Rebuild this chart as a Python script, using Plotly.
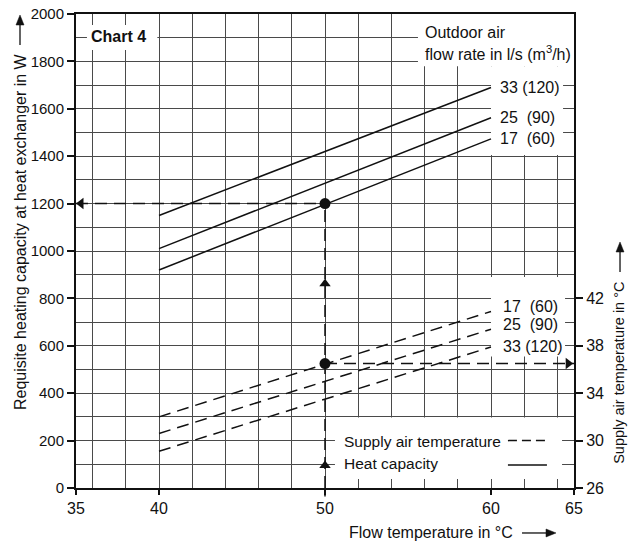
import plotly.graph_objects as go

# ---- data ----
flow_temp = [40, 60]
heat_33 = [1150, 1690]
heat_25 = [1010, 1562]
heat_17 = [920, 1473]
supply_17 = [32.0, 40.9]
supply_25 = [30.6, 39.4]
supply_33 = [29.1, 37.9]
series_labels = ["33\u00a0(120)", "25\u00a0\u00a0(90)", "17\u00a0\u00a0(60)"]
dashed_labels = ["17\u00a0\u00a0(60)", "25\u00a0\u00a0(90)", "33\u00a0(120)"]
example_flow = 50
example_heat = 1200
example_supply = 36.5
x_ticks = [35, 40, 50, 60, 65]
y_ticks = list(range(0, 2001, 200))
y2_ticks = [26, 30, 34, 38, 42]

FONT = "Liberation Sans, Arial, sans-serif"
BLACK = "#111"
DASH = "12px,7px"

fig = go.Figure()

# heat capacity (solid)
for ys in (heat_33, heat_25, heat_17):
    fig.add_trace(go.Scatter(x=flow_temp, y=ys, mode="lines",
                             line=dict(color=BLACK, width=1.5), showlegend=False))
# supply air temperature (dashed, right axis)
for ys in (supply_17, supply_25, supply_33):
    fig.add_trace(go.Scatter(x=flow_temp, y=ys, mode="lines", yaxis="y2",
                             line=dict(color=BLACK, width=1.5, dash=DASH), showlegend=False))

# example guide lines
fig.add_trace(go.Scatter(x=[x_ticks[0], example_flow], y=[example_heat, example_heat], mode="lines",
                         line=dict(color=BLACK, width=1.5, dash=DASH), showlegend=False))
fig.add_trace(go.Scatter(x=[example_flow, example_flow], y=[0, example_heat], mode="lines",
                         line=dict(color=BLACK, width=1.5, dash=DASH), showlegend=False))
fig.add_trace(go.Scatter(x=[example_flow, x_ticks[-1]], y=[example_supply, example_supply], mode="lines",
                         yaxis="y2", line=dict(color=BLACK, width=1.5, dash=DASH), showlegend=False))
# arrow heads
fig.add_trace(go.Scatter(x=[35.3], y=[example_heat], mode="markers", cliponaxis=False,
                         marker=dict(symbol="triangle-left", size=10, color=BLACK), showlegend=False))
fig.add_trace(go.Scatter(x=[example_flow, example_flow], y=[862, 95], mode="markers", cliponaxis=False,
                         marker=dict(symbol="triangle-up", size=10, color=BLACK), showlegend=False))
fig.add_trace(go.Scatter(x=[64.65], y=[example_supply], mode="markers", yaxis="y2", cliponaxis=False,
                         marker=dict(symbol="triangle-right", size=10, color=BLACK), showlegend=False))
# example points
fig.add_trace(go.Scatter(x=[example_flow], y=[example_heat], mode="markers",
                         marker=dict(size=11, color=BLACK), showlegend=False))
fig.add_trace(go.Scatter(x=[example_flow], y=[example_supply], mode="markers", yaxis="y2",
                         marker=dict(size=11, color=BLACK), showlegend=False))

# white boxes over the grid
boxes = [
    (35.66, 39.9, 1848, 1954),
    (55.6, 65, 1780, 2000),
    (60, 64.34, 1405, 1780),
    (60, 64.46, 555, 890),
    (50.6, 64.28, 38, 297),
]
for x0, x1, y0, y1 in boxes:
    fig.add_shape(type="rect", x0=x0, x1=x1, y0=y0, y1=y1, xref="x", yref="y",
                  fillcolor="white", line=dict(width=0), layer="between")

# legend samples
fig.add_shape(type="line", x0=61.02, x1=63.37, y0=200, y1=200, xref="x", yref="y",
              line=dict(color=BLACK, width=1.5, dash="9px,5px"))
fig.add_shape(type="line", x0=61.02, x1=63.37, y0=97, y1=97, xref="x", yref="y",
              line=dict(color=BLACK, width=1.5))
# short extension of the vertical guide below the axis
fig.add_shape(type="line", x0=0.5, x1=0.5, y0=-0.018, y1=0, xref="paper", yref="paper",
              line=dict(color=BLACK, width=1.5))

# axis-title arrows (line + filled head, paper coords)
def arrow(x0, y0, x1, y1, tip, p1, p2):
    fig.add_shape(type="line", x0=x0, y0=y0, x1=x1, y1=y1, xref="paper", yref="paper",
                  line=dict(color=BLACK, width=1.3))
    fig.add_shape(type="path", xref="paper", yref="paper",
                  path=f"M {tip[0]} {tip[1]} L {p1[0]} {p1[1]} L {p2[0]} {p2[1]} Z",
                  fillcolor=BLACK, line=dict(color=BLACK, width=0.5))

arrow(0.8956, -0.0949, 0.9438, -0.0949, (0.9639, -0.0949), (0.9438, -0.0865), (0.9438, -0.1033))
arrow(-0.11245, 0.9346, -0.11245, 0.9768, (-0.11245, 0.9979), (-0.1205, 0.9768), (-0.1044, 0.9768))
arrow(1.0924, 0.4557, 1.0924, 0.4979, (1.0924, 0.519), (1.0844, 0.4979), (1.1004, 0.4979))

ann_font = dict(family=FONT, size=16, color=BLACK)
anns = []
anns.append(dict(x=37.53, y=1903, text="<b>Chart 4</b>", showarrow=False, xref="x", yref="y",
                 font=dict(family=FONT, size=16, color=BLACK)))
anns.append(dict(x=55.9, y=1924, text="Outdoor air", showarrow=False, xref="x", yref="y",
                 xanchor="left", font=ann_font))
anns.append(dict(x=55.9, y=1835, text="flow rate in l/s (m<sup>3</sup>/h)", showarrow=False,
                 xref="x", yref="y", xanchor="left", font=ann_font))
for lab, ys in zip(series_labels, (heat_33, heat_25, heat_17)):
    anns.append(dict(x=60.45, y=ys[-1], text=lab, showarrow=False, xref="x", yref="y",
                     xanchor="left", font=ann_font))
dashed_label_y = [764, 688, 599]
for lab, yv in zip(dashed_labels, dashed_label_y):
    anns.append(dict(x=60.6, y=yv, text=lab, showarrow=False, xref="x", yref="y",
                     xanchor="left", font=ann_font))
legend_font = dict(family=FONT, size=15.5, color=BLACK)
anns.append(dict(x=51.0, y=198, text="Supply air temperature", showarrow=False, xref="x", yref="y",
                 xanchor="left", font=legend_font))
anns.append(dict(x=51.0, y=103, text="Heat capacity", showarrow=False, xref="x", yref="y",
                 xanchor="left", font=legend_font))
# axis titles (paper coords relative to plot area)
anns.append(dict(x=0.713, y=-0.093, text="Flow temperature in °C", showarrow=False, xref="paper",
                 yref="paper", xanchor="center", yanchor="middle", font=ann_font))
anns.append(dict(x=-0.1124, y=0.540, text="Requisite heating capacity at heat exchanger in W",
                 textangle=-90, showarrow=False, xref="paper", yref="paper",
                 xanchor="center", yanchor="middle", font=ann_font))
anns.append(dict(x=1.09, y=0.2426, text="Supply air temperature in °C", textangle=-90,
                 showarrow=False, xref="paper", yref="paper",
                 xanchor="center", yanchor="middle", font=dict(family=FONT, size=14.5, color=BLACK)))

fig.update_layout(
    width=629, height=545,
    margin=dict(l=76, r=55, t=14, b=57, autoexpand=False),
    paper_bgcolor="white", plot_bgcolor="white",
    annotations=anns,
    font=dict(family=FONT, size=16, color=BLACK),
    xaxis=dict(range=[35, 65], tickvals=x_ticks, showgrid=False, zeroline=False, automargin=False,
               showline=True, linecolor=BLACK, linewidth=2, mirror=True, ticklabeloverflow="allow",
               ticks="outside", ticklen=5, tickcolor=BLACK, tickwidth=1.5,
               tickfont=dict(family=FONT, size=16, color=BLACK),
               minor=dict(tickvals=list(range(36, 65, 2)), showgrid=True,
                          gridcolor="#4a4a4a", gridwidth=1, ticks="")),
    yaxis=dict(range=[0, 2000], tickvals=y_ticks, showgrid=True, gridcolor="#4a4a4a", gridwidth=1,
               zeroline=False, showline=True, linecolor=BLACK, linewidth=2, mirror=True,
               automargin=False, ticklabeloverflow="allow",
               ticks="outside", ticklen=7, tickcolor=BLACK, tickwidth=1.5,
               tickfont=dict(family=FONT, size=15, color=BLACK),
               minor=dict(dtick=100, showgrid=True, gridcolor="#4a4a4a", gridwidth=1, ticks="")),
    yaxis2=dict(range=[26, 66], tickvals=y2_ticks, overlaying="y", side="right", showgrid=False,
                zeroline=False, showline=False, automargin=False, ticklabeloverflow="allow",
                ticks="outside", ticklen=8,
                tickcolor=BLACK, tickwidth=1.5, tickfont=dict(family=FONT, size=16, color=BLACK)),
)

fig.write_html("out.html", config={"displayModeBar": False},
               post_script="document.body.style.margin='0px';")
